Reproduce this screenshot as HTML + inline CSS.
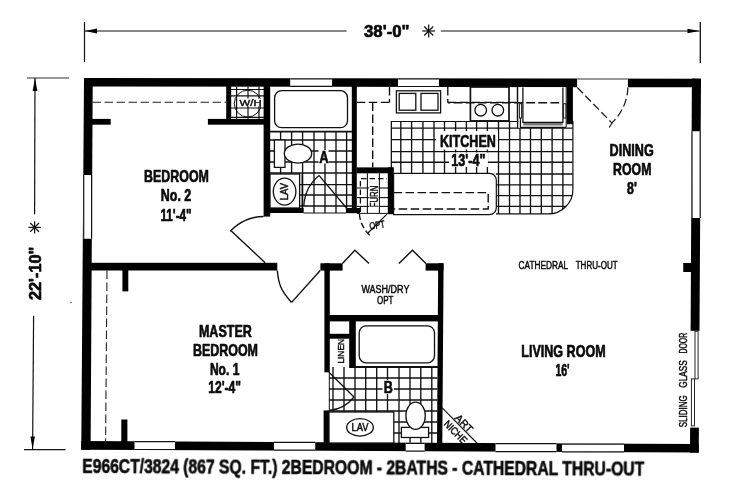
<!DOCTYPE html>
<html><head><meta charset="utf-8"><title>Floor plan E966CT/3824</title>
<style>
html,body{margin:0;padding:0;background:#fff;}
svg{display:block;}
text{font-family:"Liberation Sans",sans-serif;fill:#0a0a0a;}
text.b{stroke:#0a0a0a;stroke-width:0.65px;stroke-linejoin:round;}
text.t{stroke:#0a0a0a;stroke-width:0.45px;stroke-linejoin:round;}
</style></head><body>
<svg width="736" height="500" viewBox="0 0 736 500" shape-rendering="geometricPrecision">
<defs>
<clipPath id="cA"><rect x="270" y="131.7" width="82" height="81.3"/></clipPath>
<clipPath id="cK"><path d="M391.3,121.5 L572.9,121.5 L572.9,189.4 A24.5,24.5 0 0 1 548.4,213.9 L496,213.9 L496,173.3 L391.3,173.3 Z"/></clipPath>
<clipPath id="cB"><path d="M329,367 L437.5,367 L437.5,443.5 L393.8,443.5 L393.8,412 L329,412 Z"/></clipPath>
</defs>
<rect x="0" y="0" width="736" height="500" fill="#fff"/>
<g opacity="0.999">
<line x1="84.50" y1="22.00" x2="84.50" y2="62.00" stroke="#111" stroke-width="1.20" />
<line x1="84.50" y1="31.00" x2="346.60" y2="31.00" stroke="#111" stroke-width="1.20" />
<polygon points="85.00,31.00 97.00,28.60 97.00,33.40" fill="#000" />
<line x1="440.80" y1="31.00" x2="699.50" y2="31.00" stroke="#111" stroke-width="1.20" />
<polygon points="699.50,31.00 687.50,28.80 687.50,33.20" fill="#000" />
<line x1="700.30" y1="22.00" x2="700.30" y2="63.00" stroke="#111" stroke-width="1.30" />
<line x1="422.30" y1="31.00" x2="435.10" y2="31.00" stroke="#111" stroke-width="1.20" />
<line x1="424.17" y1="26.47" x2="433.23" y2="35.53" stroke="#111" stroke-width="1.20" />
<line x1="428.70" y1="24.60" x2="428.70" y2="37.40" stroke="#111" stroke-width="1.20" />
<line x1="433.23" y1="26.47" x2="424.17" y2="35.53" stroke="#111" stroke-width="1.20" />
<text class="b" x="364.00" y="36.90" font-size="16.50" font-weight="700" textLength="45.60" lengthAdjust="spacingAndGlyphs" >38'-0&quot;</text>
<line x1="27.00" y1="78.00" x2="69.00" y2="78.00" stroke="#333" stroke-width="1.20" />
<line x1="35.00" y1="78.00" x2="34.60" y2="214.30" stroke="#111" stroke-width="1.20" />
<polygon points="35.00,78.50 32.60,91.00 37.40,91.00" fill="#000" />
<line x1="28.40" y1="227.40" x2="40.80" y2="227.40" stroke="#111" stroke-width="1.20" />
<line x1="30.22" y1="223.02" x2="38.98" y2="231.78" stroke="#111" stroke-width="1.20" />
<line x1="34.60" y1="221.20" x2="34.60" y2="233.60" stroke="#111" stroke-width="1.20" />
<line x1="38.98" y1="223.02" x2="30.22" y2="231.78" stroke="#111" stroke-width="1.20" />
<text class="b" transform="translate(40.60 300.00) rotate(-90)" x="0" y="0" font-size="16.50" font-weight="700" textLength="53.20" lengthAdjust="spacingAndGlyphs">22'-10&quot;</text>
<line x1="33.60" y1="315.70" x2="32.60" y2="449.00" stroke="#111" stroke-width="1.20" />
<polygon points="32.60,449.00 30.40,436.50 34.90,436.50" fill="#000" />
<line x1="24.00" y1="449.60" x2="65.50" y2="449.60" stroke="#111" stroke-width="1.20" />
<g clip-path="url(#cA)">
<line x1="280.60" y1="131.00" x2="280.60" y2="214.00" stroke="#111" stroke-width="1.35" />
<line x1="291.60" y1="131.00" x2="291.60" y2="214.00" stroke="#111" stroke-width="1.35" />
<line x1="302.60" y1="131.00" x2="302.60" y2="214.00" stroke="#111" stroke-width="1.35" />
<line x1="314.00" y1="131.00" x2="314.00" y2="214.00" stroke="#111" stroke-width="1.35" />
<line x1="325.00" y1="131.00" x2="325.00" y2="214.00" stroke="#111" stroke-width="1.35" />
<line x1="336.00" y1="131.00" x2="336.00" y2="214.00" stroke="#111" stroke-width="1.35" />
<line x1="346.60" y1="131.00" x2="346.60" y2="214.00" stroke="#111" stroke-width="1.35" />
<line x1="270.00" y1="140.00" x2="352.00" y2="140.00" stroke="#111" stroke-width="1.35" />
<line x1="270.00" y1="151.00" x2="352.00" y2="151.00" stroke="#111" stroke-width="1.35" />
<line x1="270.00" y1="162.00" x2="352.00" y2="162.00" stroke="#111" stroke-width="1.35" />
<line x1="270.00" y1="173.00" x2="352.00" y2="173.00" stroke="#111" stroke-width="1.35" />
<line x1="270.00" y1="184.60" x2="352.00" y2="184.60" stroke="#111" stroke-width="1.35" />
<line x1="270.00" y1="195.00" x2="352.00" y2="195.00" stroke="#111" stroke-width="1.35" />
<line x1="270.00" y1="206.00" x2="352.00" y2="206.00" stroke="#111" stroke-width="1.35" />
</g>
<g clip-path="url(#cK)">
<line x1="391.30" y1="121.00" x2="391.30" y2="215.00" stroke="#111" stroke-width="1.35" />
<line x1="400.80" y1="121.00" x2="400.80" y2="215.00" stroke="#111" stroke-width="1.35" />
<line x1="411.60" y1="121.00" x2="411.60" y2="215.00" stroke="#111" stroke-width="1.35" />
<line x1="422.90" y1="121.00" x2="422.90" y2="215.00" stroke="#111" stroke-width="1.35" />
<line x1="434.00" y1="121.00" x2="434.00" y2="215.00" stroke="#111" stroke-width="1.35" />
<line x1="444.50" y1="121.00" x2="444.50" y2="215.00" stroke="#111" stroke-width="1.35" />
<line x1="455.60" y1="121.00" x2="455.60" y2="215.00" stroke="#111" stroke-width="1.35" />
<line x1="466.40" y1="121.00" x2="466.40" y2="215.00" stroke="#111" stroke-width="1.35" />
<line x1="476.60" y1="121.00" x2="476.60" y2="215.00" stroke="#111" stroke-width="1.35" />
<line x1="487.40" y1="121.00" x2="487.40" y2="215.00" stroke="#111" stroke-width="1.35" />
<line x1="498.50" y1="121.00" x2="498.50" y2="215.00" stroke="#111" stroke-width="1.35" />
<line x1="509.50" y1="121.00" x2="509.50" y2="215.00" stroke="#111" stroke-width="1.35" />
<line x1="520.00" y1="121.00" x2="520.00" y2="215.00" stroke="#111" stroke-width="1.35" />
<line x1="530.50" y1="121.00" x2="530.50" y2="215.00" stroke="#111" stroke-width="1.35" />
<line x1="541.30" y1="121.00" x2="541.30" y2="215.00" stroke="#111" stroke-width="1.35" />
<line x1="552.10" y1="121.00" x2="552.10" y2="215.00" stroke="#111" stroke-width="1.35" />
<line x1="562.90" y1="121.00" x2="562.90" y2="215.00" stroke="#111" stroke-width="1.35" />
<line x1="391.00" y1="128.10" x2="574.00" y2="128.10" stroke="#111" stroke-width="1.35" />
<line x1="391.00" y1="139.60" x2="574.00" y2="139.60" stroke="#111" stroke-width="1.35" />
<line x1="391.00" y1="151.60" x2="574.00" y2="151.60" stroke="#111" stroke-width="1.35" />
<line x1="391.00" y1="162.20" x2="574.00" y2="162.20" stroke="#111" stroke-width="1.35" />
<line x1="391.00" y1="174.00" x2="574.00" y2="174.00" stroke="#111" stroke-width="1.35" />
<line x1="391.00" y1="184.90" x2="574.00" y2="184.90" stroke="#111" stroke-width="1.35" />
<line x1="391.00" y1="195.60" x2="574.00" y2="195.60" stroke="#111" stroke-width="1.35" />
<line x1="391.00" y1="206.40" x2="574.00" y2="206.40" stroke="#111" stroke-width="1.35" />
</g>
<path d="M391.3,173.3 L391.3,121.5 L572.9,121.5 L572.9,189.4 A24.5,24.5 0 0 1 548.4,213.9 L496,213.9" stroke="#111" stroke-width="1.20" fill="none" />
<g clip-path="url(#cB)">
<line x1="333.00" y1="366.00" x2="333.00" y2="444.00" stroke="#111" stroke-width="1.35" />
<line x1="344.00" y1="366.00" x2="344.00" y2="444.00" stroke="#111" stroke-width="1.35" />
<line x1="355.00" y1="366.00" x2="355.00" y2="444.00" stroke="#111" stroke-width="1.35" />
<line x1="365.70" y1="366.00" x2="365.70" y2="444.00" stroke="#111" stroke-width="1.35" />
<line x1="376.70" y1="366.00" x2="376.70" y2="444.00" stroke="#111" stroke-width="1.35" />
<line x1="387.50" y1="366.00" x2="387.50" y2="444.00" stroke="#111" stroke-width="1.35" />
<line x1="399.00" y1="366.00" x2="399.00" y2="444.00" stroke="#111" stroke-width="1.35" />
<line x1="410.00" y1="366.00" x2="410.00" y2="444.00" stroke="#111" stroke-width="1.35" />
<line x1="420.80" y1="366.00" x2="420.80" y2="444.00" stroke="#111" stroke-width="1.35" />
<line x1="431.80" y1="366.00" x2="431.80" y2="444.00" stroke="#111" stroke-width="1.35" />
<line x1="329.00" y1="378.00" x2="438.00" y2="378.00" stroke="#111" stroke-width="1.35" />
<line x1="329.00" y1="389.00" x2="438.00" y2="389.00" stroke="#111" stroke-width="1.35" />
<line x1="329.00" y1="400.00" x2="438.00" y2="400.00" stroke="#111" stroke-width="1.35" />
<line x1="329.00" y1="411.00" x2="438.00" y2="411.00" stroke="#111" stroke-width="1.35" />
<line x1="329.00" y1="422.00" x2="438.00" y2="422.00" stroke="#111" stroke-width="1.35" />
<line x1="329.00" y1="433.00" x2="438.00" y2="433.00" stroke="#111" stroke-width="1.35" />
</g>
<line x1="236.60" y1="86.50" x2="236.60" y2="119.00" stroke="#111" stroke-width="1.20" />
<line x1="248.00" y1="86.50" x2="248.00" y2="119.00" stroke="#111" stroke-width="1.20" />
<line x1="259.00" y1="86.50" x2="259.00" y2="119.00" stroke="#111" stroke-width="1.20" />
<line x1="231.00" y1="89.50" x2="264.00" y2="89.50" stroke="#111" stroke-width="1.20" />
<line x1="231.00" y1="95.80" x2="264.00" y2="95.80" stroke="#111" stroke-width="1.20" />
<line x1="231.00" y1="108.00" x2="264.00" y2="108.00" stroke="#111" stroke-width="1.20" />
<line x1="231.00" y1="117.30" x2="264.00" y2="117.30" stroke="#111" stroke-width="1.20" />
<polygon points="84.00,78.10 701.00,78.75 701.00,87.30 84.00,86.50" fill="#000" />
<polygon points="84.00,78.10 92.75,78.10 90.60,449.75 81.25,449.75" fill="#000" />
<polygon points="81.25,441.00 698.75,444.00 698.75,452.50 81.25,449.75" fill="#000" />
<polygon points="691.90,78.40 701.00,78.75 698.75,452.70 690.00,452.70" fill="#000" />
<rect x="290.20" y="78.10" width="41.90" height="8.90" fill="#fff" />
<line x1="290.20" y1="78.80" x2="332.10" y2="78.80" stroke="#111" stroke-width="1.20" />
<line x1="290.20" y1="86.30" x2="332.10" y2="86.30" stroke="#111" stroke-width="1.20" />
<rect x="398.00" y="78.20" width="41.00" height="9.00" fill="#fff" />
<line x1="398.00" y1="78.90" x2="439.00" y2="78.90" stroke="#111" stroke-width="1.20" />
<line x1="398.00" y1="86.50" x2="439.00" y2="86.50" stroke="#111" stroke-width="1.20" />
<rect x="577.10" y="77.00" width="50.80" height="11.00" fill="#fff" />
<line x1="577.10" y1="78.90" x2="627.90" y2="78.90" stroke="#777" stroke-width="1.50" />
<rect x="83.00" y="175.00" width="9.30" height="63.75" fill="#fff" />
<line x1="83.70" y1="175.00" x2="83.70" y2="238.75" stroke="#111" stroke-width="1.20" />
<line x1="91.60" y1="175.00" x2="91.60" y2="238.75" stroke="#111" stroke-width="1.20" />
<rect x="134.50" y="441.00" width="40.50" height="9.20" fill="#fff" />
<line x1="134.50" y1="441.70" x2="175.00" y2="441.70" stroke="#111" stroke-width="1.20" />
<line x1="134.50" y1="449.50" x2="175.00" y2="449.50" stroke="#111" stroke-width="1.20" />
<rect x="274.00" y="441.70" width="41.25" height="9.20" fill="#fff" />
<line x1="274.00" y1="442.40" x2="315.25" y2="442.40" stroke="#111" stroke-width="1.20" />
<line x1="274.00" y1="450.20" x2="315.25" y2="450.20" stroke="#111" stroke-width="1.20" />
<rect x="405.70" y="442.70" width="18.90" height="9.10" fill="#fff" />
<line x1="405.70" y1="443.40" x2="424.60" y2="443.40" stroke="#111" stroke-width="1.20" />
<line x1="405.70" y1="451.10" x2="424.60" y2="451.10" stroke="#111" stroke-width="1.20" />
<rect x="495.50" y="443.00" width="61.00" height="9.30" fill="#fff" />
<line x1="495.50" y1="443.70" x2="556.50" y2="443.70" stroke="#111" stroke-width="1.20" />
<line x1="495.50" y1="451.60" x2="556.50" y2="451.60" stroke="#111" stroke-width="1.20" />
<rect x="562.00" y="443.40" width="62.00" height="9.20" fill="#fff" />
<line x1="562.00" y1="444.10" x2="624.00" y2="444.10" stroke="#111" stroke-width="1.20" />
<line x1="562.00" y1="451.90" x2="624.00" y2="451.90" stroke="#111" stroke-width="1.20" />
<rect x="691.30" y="131.25" width="9.60" height="86.75" fill="#fff" />
<line x1="692.00" y1="131.25" x2="692.00" y2="218.00" stroke="#111" stroke-width="1.20" />
<line x1="700.20" y1="131.25" x2="700.20" y2="218.00" stroke="#111" stroke-width="1.20" />
<rect x="689.00" y="330.80" width="11.50" height="96.80" fill="#fff" />
<rect x="695" y="331.2" width="3.1" height="47.7" fill="#fff" stroke="#111" stroke-width="0.9"/>
<rect x="691.4" y="378.9" width="3.1" height="47" fill="#fff" stroke="#111" stroke-width="0.9"/>
<rect x="683.25" y="263.00" width="8.75" height="9.00" fill="#000" />
<rect x="92.00" y="118.90" width="18.70" height="5.80" fill="#000" />
<rect x="207.90" y="118.90" width="56.10" height="5.80" fill="#000" />
<rect x="226.20" y="86.00" width="5.00" height="33.50" fill="#000" />
<rect x="263.60" y="86.00" width="6.60" height="130.60" fill="#000" />
<rect x="351.80" y="86.00" width="5.00" height="127.00" fill="#000" />
<rect x="270.00" y="208.00" width="33.60" height="5.00" fill="#000" />
<rect x="346.40" y="208.00" width="13.60" height="5.20" fill="#000" />
<rect x="356.60" y="167.40" width="37.00" height="5.90" fill="#000" />
<rect x="387.80" y="167.40" width="5.80" height="46.80" fill="#000" />
<rect x="566.80" y="86.00" width="6.10" height="38.20" fill="#000" />
<rect x="83.00" y="262.80" width="194.30" height="7.70" fill="#000" />
<rect x="122.40" y="270.00" width="5.90" height="21.40" fill="#000" />
<rect x="121.30" y="419.50" width="6.10" height="22.50" fill="#000" />
<rect x="320.40" y="263.30" width="22.20" height="7.30" fill="#000" />
<rect x="324.40" y="263.30" width="5.40" height="109.00" fill="#000" />
<rect x="323.60" y="410.40" width="5.60" height="32.60" fill="#000" />
<rect x="425.60" y="263.30" width="17.80" height="7.30" fill="#000" />
<polygon points="438.20,263.30 443.60,263.30 442.30,444.00 437.00,444.00" fill="#000" />
<rect x="329.00" y="315.00" width="109.50" height="6.40" fill="#000" />
<rect x="349.20" y="321.00" width="6.60" height="47.00" fill="#000" />
<rect x="329.00" y="333.80" width="21.00" height="4.90" fill="#000" />
<line x1="92.50" y1="102.30" x2="226.50" y2="102.30" stroke="#222" stroke-width="1.10" stroke-dasharray="8.5 3.5"/>
<line x1="107.00" y1="270.50" x2="105.60" y2="441.00" stroke="#222" stroke-width="1.10" stroke-dasharray="8.5 3.5"/>
<circle cx="247.7" cy="103.6" r="13.4" fill="none" stroke="#111" stroke-width="1"/>
<rect x="239.00" y="98.60" width="23.00" height="7.60" fill="#fff" />
<text class="t" x="239.60" y="105.70" font-size="9.60" font-weight="400" textLength="22.00" lengthAdjust="spacingAndGlyphs" >W/H</text>
<line x1="270.00" y1="131.70" x2="352.00" y2="131.70" stroke="#111" stroke-width="1.80" />
<rect x="274.6" y="90.7" width="72.9" height="37" rx="7" ry="7" fill="#fff" stroke="#111" stroke-width="1.3"/>
<rect x="274.4" y="140" width="10.6" height="27.4" fill="#fff" stroke="#111" stroke-width="1.3"/>
<ellipse cx="298" cy="153.6" rx="13.7" ry="9.5" fill="#fff" stroke="#111" stroke-width="1.3"/>
<rect x="270" y="174" width="29.6" height="34" fill="#fff" stroke="#111" stroke-width="1.3"/>
<line x1="302.00" y1="174.00" x2="302.00" y2="208.00" stroke="#111" stroke-width="0.90" />
<ellipse cx="284.6" cy="191.6" rx="11.3" ry="13.5" fill="#fff" stroke="#111" stroke-width="1.3"/>
<text class="t" transform="translate(288.20 200.20) rotate(-90)" x="0" y="0" font-size="10.50" font-weight="400" textLength="17.20" lengthAdjust="spacingAndGlyphs">LAV</text>
<rect x="318.50" y="150.00" width="10.00" height="13.50" fill="#fff" />
<text class="b" x="319.30" y="162.50" font-size="16.30" font-weight="700" textLength="9.40" lengthAdjust="spacingAndGlyphs" >A</text>
<line x1="303.60" y1="213.00" x2="346.00" y2="213.00" stroke="#111" stroke-width="1.00" />
<path d="M346.5,208 L319,175.4 M319,175.4 A42.5,42.5 0 0 0 303.8,206" stroke="#111" stroke-width="1.30" fill="none" />
<path d="M265.2,262.8 L230.5,230.3 M230.2,231.3 A47.5,47.5 0 0 1 263.6,216.5" stroke="#111" stroke-width="1.40" fill="none" />
<path d="M320.2,270.5 L291.6,302.4 M277.3,270.5 C278.5,284 281,291 291.6,302.4" stroke="#111" stroke-width="1.40" fill="none" />
<line x1="356.80" y1="102.40" x2="389.50" y2="102.40" stroke="#111" stroke-width="1.40" stroke-dasharray="8.5 3.5"/>
<line x1="389.50" y1="87.00" x2="389.50" y2="102.40" stroke="#111" stroke-width="1.40" stroke-dasharray="8.5 3.5"/>
<line x1="372.70" y1="102.40" x2="372.70" y2="167.40" stroke="#111" stroke-width="1.40" stroke-dasharray="8.5 3.5"/>
<line x1="447.80" y1="87.00" x2="447.80" y2="102.40" stroke="#111" stroke-width="1.40" stroke-dasharray="8.5 3.5"/>
<line x1="447.80" y1="102.40" x2="560.00" y2="102.40" stroke="#111" stroke-width="1.40" stroke-dasharray="8.5 3.5"/>
<rect x="396.4" y="90.8" width="44.2" height="22.1" fill="#fff" stroke="#111" stroke-width="1.3"/>
<rect x="399.2" y="93.4" width="16.6" height="16.8" fill="#fff" stroke="#111" stroke-width="1.3"/>
<rect x="421" y="93.4" width="17" height="16.8" fill="#fff" stroke="#111" stroke-width="1.3"/>
<rect x="470.4" y="87" width="38.6" height="33.9" fill="none" stroke="#111" stroke-width="1.7"/>
<circle cx="480.7" cy="110.2" r="5.8" fill="#fff" stroke="#111" stroke-width="1.3"/>
<circle cx="497.8" cy="110.2" r="5.8" fill="#fff" stroke="#111" stroke-width="1.3"/>
<line x1="517.30" y1="87.00" x2="517.30" y2="121.50" stroke="#111" stroke-width="1.00" />
<rect x="518.30" y="87.30" width="48.10" height="40.70" fill="#fff" />
<line x1="517.60" y1="87.00" x2="517.60" y2="128.30" stroke="#111" stroke-width="1.30" />
<line x1="447.80" y1="102.80" x2="560.00" y2="102.80" stroke="#111" stroke-width="1.40" stroke-dasharray="8.8 3.3" stroke-dashoffset="6.3"/>
<path d="M522.9,87.5 L522.9,122.4 L562.9,122.4 L562.9,87.5" stroke="#111" stroke-width="1.30" fill="none" />
<line x1="523.30" y1="124.30" x2="562.60" y2="124.30" stroke="#777" stroke-width="2.60" />
<path d="M520.4,118 L520.4,127.4 L566.2,127.4" stroke="#111" stroke-width="1.20" fill="none" />
<rect x="519.4" y="103.7" width="2.2" height="14.3" fill="#fff" stroke="#111" stroke-width="0.9"/>
<rect x="563.6" y="103.7" width="2.4" height="14.3" fill="#fff" stroke="#111" stroke-width="0.9"/>
<line x1="566.20" y1="87.00" x2="566.20" y2="127.40" stroke="#111" stroke-width="1.00" />
<path d="M393.6,173.3 L489.5,173.3 A6.8,6.8 0 0 1 496.3,180.1 L496.3,207.8 A6.8,6.8 0 0 1 489.5,214.6 L393.6,214.6 Z" stroke="#111" stroke-width="1.20" fill="#fff" />
<path d="M393.6,192.6 L488.2,192.6 L488.2,209 L393.6,209" stroke="#111" stroke-width="1.40" fill="none" stroke-dasharray="8.5 3.5"/>
<rect x="436.00" y="131.00" width="62.00" height="18.50" fill="#fff" />
<rect x="449.00" y="152.50" width="39.00" height="14.50" fill="#fff" />
<text class="b" x="440.00" y="146.90" font-size="16.30" font-weight="700" textLength="55.90" lengthAdjust="spacingAndGlyphs" >KITCHEN</text>
<text class="b" x="451.30" y="166.00" font-size="16.30" font-weight="700" textLength="34.20" lengthAdjust="spacingAndGlyphs" >13'-4&quot;</text>
<line x1="367.40" y1="173.30" x2="367.40" y2="213.00" stroke="#111" stroke-width="1.10" />
<line x1="379.40" y1="173.30" x2="379.40" y2="213.00" stroke="#111" stroke-width="1.10" />
<line x1="356.80" y1="188.00" x2="388.00" y2="188.00" stroke="#111" stroke-width="1.10" />
<line x1="356.80" y1="197.60" x2="388.00" y2="197.60" stroke="#111" stroke-width="1.10" />
<line x1="356.80" y1="206.40" x2="388.00" y2="206.40" stroke="#111" stroke-width="1.10" />
<path d="M360.4,212 L360.4,178.6 L387,178.6" stroke="#111" stroke-width="1.30" fill="none" stroke-dasharray="5.5 3"/>
<rect x="369.30" y="184.50" width="9.30" height="24.00" fill="#fff" />
<text class="t" transform="translate(377.60 207.30) rotate(-90)" x="0" y="0" font-size="10.50" font-weight="400" textLength="21.60" lengthAdjust="spacingAndGlyphs">FURN</text>
<line x1="356.80" y1="213.40" x2="388.00" y2="213.40" stroke="#111" stroke-width="1.00" />
<path d="M359.4,214 A30,30 0 0 0 366.5,231.5" stroke="#111" stroke-width="1.40" fill="none" stroke-dasharray="6 3"/>
<line x1="386.80" y1="214.40" x2="367.70" y2="233.30" stroke="#111" stroke-width="1.20" />
<line x1="365.90" y1="231.20" x2="369.60" y2="235.40" stroke="#111" stroke-width="1.20" />
<text class="t" transform="translate(370 229.6) rotate(-9)" font-size="10" textLength="15.5" lengthAdjust="spacingAndGlyphs">OPT</text>
<path d="M577.3,87.5 L611.8,122.9" stroke="#111" stroke-width="1.20" fill="none" stroke-dasharray="8 3.5"/>
<path d="M627.9,87.5 A50.5,50.5 0 0 1 611.8,122.9" stroke="#111" stroke-width="1.20" fill="none" stroke-dasharray="8 3.5"/>
<line x1="612.50" y1="122.30" x2="609.20" y2="127.50" stroke="#111" stroke-width="1.20" />
<path d="M342.4,263.6 L354.9,250.3 L369,263.4" stroke="#111" stroke-width="1.40" fill="none" />
<path d="M398.9,263.4 L412.5,250.3 L425.9,263.4" stroke="#111" stroke-width="1.40" fill="none" />
<line x1="355.40" y1="367.00" x2="438.00" y2="367.00" stroke="#111" stroke-width="1.80" />
<rect x="359.2" y="325.8" width="75.3" height="37" rx="7" ry="7" fill="#fff" stroke="#111" stroke-width="1.3"/>
<text class="t" transform="translate(344.20 363.60) rotate(-90)" x="0" y="0" font-size="9.50" font-weight="400" textLength="24.60" lengthAdjust="spacingAndGlyphs">LINEN</text>
<path d="M329,372.3 L354,397 M354,397 A36,36 0 0 1 329.4,410.5" stroke="#111" stroke-width="1.30" fill="none" />
<line x1="329.30" y1="372.00" x2="329.30" y2="412.00" stroke="#111" stroke-width="1.00" />
<rect x="329" y="412" width="64.8" height="31" fill="#fff" stroke="#111" stroke-width="1.3"/>
<ellipse cx="360" cy="427.4" rx="13.3" ry="8.7" fill="#fff" stroke="#111" stroke-width="1.3"/>
<text class="t" x="351.50" y="431.20" font-size="10.50" font-weight="400" textLength="17.00" lengthAdjust="spacingAndGlyphs" >LAV</text>
<rect x="401.4" y="427.4" width="27.2" height="10.1" fill="#fff" stroke="#111" stroke-width="1.3"/>
<ellipse cx="415.6" cy="415.8" rx="9.7" ry="13.6" fill="#fff" stroke="#111" stroke-width="1.3"/>
<rect x="382.50" y="380.00" width="11.50" height="14.00" fill="#fff" />
<text class="b" x="383.80" y="392.70" font-size="16.30" font-weight="700" textLength="9.10" lengthAdjust="spacingAndGlyphs" >B</text>
<line x1="442.00" y1="407.60" x2="477.40" y2="443.50" stroke="#111" stroke-width="1.10" />
<text class="t" transform="translate(454.3 418.6) rotate(45.3)" font-size="10.3" textLength="20.5" lengthAdjust="spacingAndGlyphs">ART</text>
<text class="t" transform="translate(443.2 424.6) rotate(45.3)" font-size="10.3" textLength="28" lengthAdjust="spacingAndGlyphs">NICHE</text>
<circle cx="71" cy="302.5" r="0.8" fill="#555"/>
<text class="b" x="144.10" y="182.00" font-size="16.30" font-weight="700" textLength="64.80" lengthAdjust="spacingAndGlyphs" >BEDROOM</text>
<text class="b" x="160.80" y="200.80" font-size="16.30" font-weight="700" textLength="30.50" lengthAdjust="spacingAndGlyphs" >No. 2</text>
<text class="b" x="160.40" y="220.70" font-size="16.30" font-weight="700" textLength="31.30" lengthAdjust="spacingAndGlyphs" >11'-4&quot;</text>
<text class="b" x="198.90" y="337.10" font-size="16.30" font-weight="700" textLength="53.00" lengthAdjust="spacingAndGlyphs" >MASTER</text>
<text class="b" x="192.90" y="355.80" font-size="16.30" font-weight="700" textLength="65.10" lengthAdjust="spacingAndGlyphs" >BEDROOM</text>
<text class="b" x="209.90" y="374.50" font-size="16.30" font-weight="700" textLength="29.50" lengthAdjust="spacingAndGlyphs" >No. 1</text>
<text class="b" x="208.20" y="393.20" font-size="16.30" font-weight="700" textLength="32.80" lengthAdjust="spacingAndGlyphs" >12'-4&quot;</text>
<text class="b" x="609.60" y="156.30" font-size="16.30" font-weight="700" textLength="44.10" lengthAdjust="spacingAndGlyphs" >DINING</text>
<text class="b" x="613.10" y="174.50" font-size="16.30" font-weight="700" textLength="38.30" lengthAdjust="spacingAndGlyphs" >ROOM</text>
<text class="b" x="627.10" y="193.60" font-size="16.30" font-weight="700" textLength="9.80" lengthAdjust="spacingAndGlyphs" >8'</text>
<text class="b" x="521.30" y="356.60" font-size="16.30" font-weight="700" textLength="84.30" lengthAdjust="spacingAndGlyphs" >LIVING ROOM</text>
<text class="b" x="555.40" y="376.00" font-size="16.30" font-weight="700" textLength="14.20" lengthAdjust="spacingAndGlyphs" >16'</text>
<text class="t" x="518.60" y="269.00" font-size="10.00" font-weight="400" textLength="49.50" lengthAdjust="spacingAndGlyphs" >CATHEDRAL</text>
<text class="t" x="575.70" y="269.00" font-size="10.00" font-weight="400" textLength="41.90" lengthAdjust="spacingAndGlyphs" >THRU-OUT</text>
<text class="t" x="361.40" y="293.00" font-size="10.00" font-weight="400" textLength="48.00" lengthAdjust="spacingAndGlyphs" >WASH/DRY</text>
<text class="t" x="377.00" y="304.00" font-size="10.00" font-weight="400" textLength="16.40" lengthAdjust="spacingAndGlyphs" >OPT</text>
<text class="t" transform="translate(687.30 427.30) rotate(-90)" x="0" y="0" font-size="10.50" font-weight="400" textLength="31.90" lengthAdjust="spacingAndGlyphs">SLIDING</text>
<text class="t" transform="translate(687.30 387.70) rotate(-90)" x="0" y="0" font-size="10.50" font-weight="400" textLength="27.50" lengthAdjust="spacingAndGlyphs">GLASS</text>
<text class="t" transform="translate(687.30 353.60) rotate(-90)" x="0" y="0" font-size="10.50" font-weight="400" textLength="20.90" lengthAdjust="spacingAndGlyphs">DOOR</text>
<text class="b" transform="translate(82.2 472.9) rotate(0.28)" font-size="20.3" font-weight="700" textLength="562" lengthAdjust="spacingAndGlyphs">E966CT/3824 (867 SQ. FT.) 2BEDROOM - 2BATHS - CATHEDRAL THRU-OUT</text>
</g>
</svg>
</body></html>
